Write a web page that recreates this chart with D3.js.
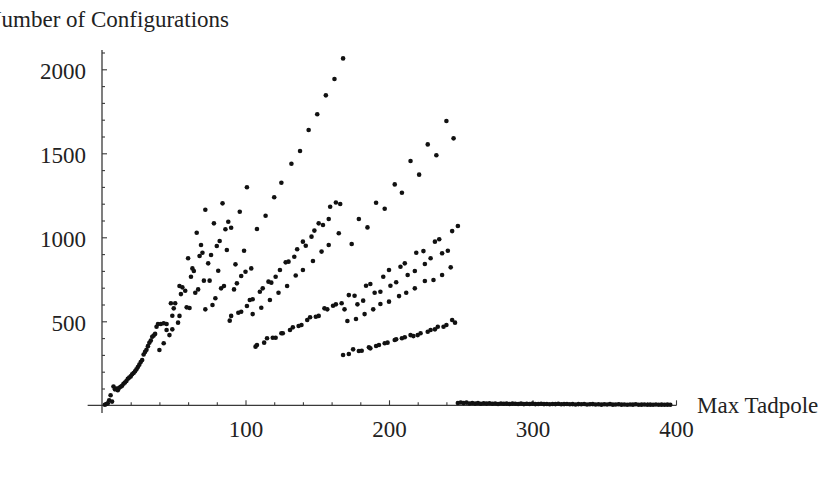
<!DOCTYPE html>
<html>
<head>
<meta charset="utf-8">
<script src="https://cdn.jsdelivr.net/npm/d3@7/dist/d3.min.js"></script>
<style>
  html, body { margin: 0; padding: 0; background: #fff; }
  svg { display: block; }
  text { font-family: "Liberation Serif", "Times New Roman", serif; }
</style>
</head>
<body>
<script>
// ---------------- data (Max Tadpole, Number of Configurations) ----------------
const xTitle = "Max Tadpole";
const yTitle = "Number of Configurations";
const xMajorTicks = [100, 200, 300, 400];
const yMajorTicks = [500, 1000, 1500, 2000];

const rampPts = [[2,3],[3,8],[4,12],[5,30],[6,60],[7,22],[8,112],[9,95],[10,100],[11,90],[12,104],[13,110],
  [14,116],[15,128],[16,136],[17,145],[18,158],[19,165],[20,172],[21,185],[22,192],[23,202],[24,215],[25,228],
  [26,242],[27,258],[28,270],[29,302],[30,318],[31,330],[32,352],[33,372],[34,385],[35,408],[36,415],[37,425],
  [38,468],[39,484],[41,484],[43,488],[45,484],
  [40,329],[43,369],[45,448],[47,418],[49,452]];

const cloudPts = [[101,1298],[84,1202],[72,1164],[96,1152],[78,1083],[88,1093],[86,1048],[90,1057],[66,1027],
  [82,978],[80,948],[69,954],[87,924],[99,920],[70,908],[68,889],[76,895],[60,875],[74,845],[93,839],[63,815],
  [64,799],[104,815],[81,801],[100,795],[97,770],[62,765],[71,742],[75,742],[94,726],[54,710],[56,702],[85,710],
  [83,696],[58,682],[55,662],[67,690],[65,670],[92,690],[79,637],[110,676],[48,607],[51,607],[77,597],[103,627],
  [105,631],[101,591],[50,577],[59,583],[61,579],[72,571],[97,557],[95,551],[49,533],[54,532],[90,532],[105,543],
  [53,492],[89,504]];

const upperPts = [[108,1049],[114,1128],[120,1238],[125,1325],[132,1438],[138,1514],[144,1639],[150,1732],
  [156,1845],[162,1942],[168,2065],
  [174,960],[179,1109],[185,1059],[191,1206],[197,1170],[204,1315],[209,1265],[215,1454],[221,1373],[227,1553],
  [233,1488],[240,1692],[245,1589]];

const middlePts = [[112,696],[116,736],[118,730],[121,765],[124,805],[128,851],[130,855],[134,884],[136,929],
  [140,974],[142,950],[146,1004],[148,1040],[151,1083],[154,1073],[158,1109],[159,1182],[163,1207],[166,1198],
  [111,581],[117,627],[123,670],[129,710],[135,773],[140,805],[147,859],[153,915],[158,954],[165,1024],
  [172,656],[176,652],[184,712],[187,722],[196,765],[200,805],[208,825],[211,845],[219,908],[224,918],[232,974],
  [235,988],[244,1037],[248,1067],
  [169,571],[178,601],[182,623],[190,670],[194,676],[201,712],[205,732],[213,776],[218,799],[225,841],[229,875],
  [237,905],[241,920],
  [171,502],[177,514],[183,543],[189,571],[194,603],[200,617],[207,650],[212,670],[218,696],[225,740],[231,746],
  [237,776],[243,821]];

const lowerPts = [[107,349],[108,359],[113,373],[115,399],[119,402],[121,402],[125,429],[126,429],[131,448],
  [133,464],[137,472],[139,478],[143,508],[145,524],[149,527],[151,532],[155,577],[157,571],[161,593],[163,601],
  [167,607],
  [168,299],[172,305],[175,333],[179,323],[181,325],[186,345],[187,339],[191,353],[193,359],[197,369],[199,373],
  [204,389],[205,393],[209,399],[211,405],[215,418],[217,412],[220,418],[222,429],[227,438],[229,448],[232,452],
  [234,468],[238,468],[240,478],[244,508],[246,492]];

const flatX = [248,250,252,254,256,258,260,262,264,266,268,270,272,274,276,278,280,282,284,286,288,290,292,294,
  296,298,300,302,304,306,308,310,312,314,316,318,320,322,324,326,328,330,332,334,336,338,340,342,344,346,348,
  350,352,354,356,358,360,362,364,366,368,370,372,374,376,378,380,382,384,386,388,390,392,394,396];
const flatY = [14,17,13,16,11,14,10,13,9,12,10,12,9,11,8,11,9,10,8,10,9,8,10,7,9,8,10,7,8,9,7,8,6,8,7,9,6,7,8,6,
  7,5,7,6,8,5,6,7,5,6,4,6,5,7,4,5,6,4,5,3,5,4,6,3,4,5,3,4,3,5,3,4,3,4,3];

// ---------------- drawing ----------------
const W = 830, H = 478;
const svg = d3.select("body").append("svg").attr("width", W).attr("height", H);

const x = d3.scaleLinear().domain([0, 400]).range([102, 676]);
const y = d3.scaleLinear().domain([0, 2000]).range([405.3, 69.3]);

const axisColor = "#3a3a3a";
const fontSize = 23;

// axis lines
svg.append("line").attr("x1", x(-10)).attr("x2", x(400) + 0.5)
  .attr("y1", y(0)).attr("y2", y(0)).attr("stroke", axisColor).attr("stroke-width", 1.3);
svg.append("line").attr("x1", x(0)).attr("x2", x(0))
  .attr("y1", y(-46)).attr("y2", y(2115)).attr("stroke", axisColor).attr("stroke-width", 1.3);

// minor ticks
const xMinor = d3.range(20, 401, 20).filter(v => !xMajorTicks.includes(v));
const yMinor = d3.range(100, 2101, 100).filter(v => !yMajorTicks.includes(v));

const gxMinor = svg.append("g").attr("transform", `translate(0,${y(0)})`)
  .call(d3.axisBottom(x).tickValues(xMinor).tickSize(-3).tickFormat(""));
const gyMinor = svg.append("g").attr("transform", `translate(${x(0)},0)`)
  .call(d3.axisLeft(y).tickValues(yMinor).tickSize(-3).tickFormat(""));

// major ticks with labels
const gx = svg.append("g").attr("transform", `translate(0,${y(0)})`)
  .call(d3.axisBottom(x).tickValues(xMajorTicks).tickSize(-5).tickPadding(15).tickFormat(d3.format("d")));
const gy = svg.append("g").attr("transform", `translate(${x(0)},0)`)
  .call(d3.axisLeft(y).tickValues(yMajorTicks).tickSize(-5).tickPadding(16).tickFormat(d3.format("d")));

[gxMinor, gyMinor, gx, gy].forEach(g => {
  g.select(".domain").remove();
  g.selectAll(".tick line").attr("stroke", axisColor).attr("stroke-width", 1.1);
  g.selectAll(".tick text").attr("fill", "#222")
    .style("font-family", '"Liberation Serif", serif').style("font-size", fontSize + "px");
});
gy.selectAll(".tick text").attr("dy", "0.41em");

// axis titles
svg.append("text").attr("x", 229).attr("y", 27).attr("text-anchor", "end")
  .style("font-size", fontSize + "px").attr("fill", "#222").text(yTitle);
svg.append("text").attr("x", 697).attr("y", 413).attr("text-anchor", "start")
  .style("font-size", fontSize + "px").attr("fill", "#222").text(xTitle);

// points
const allPts = [].concat(rampPts, cloudPts, upperPts, middlePts, lowerPts,
  flatX.map((v, i) => [v, flatY[i]]));

svg.append("g").selectAll("circle").data(allPts).join("circle")
  .attr("cx", d => x(d[0]))
  .attr("cy", d => y(d[1]))
  .attr("r", 2.3)
  .attr("fill", "#111");
</script>
</body>
</html>
